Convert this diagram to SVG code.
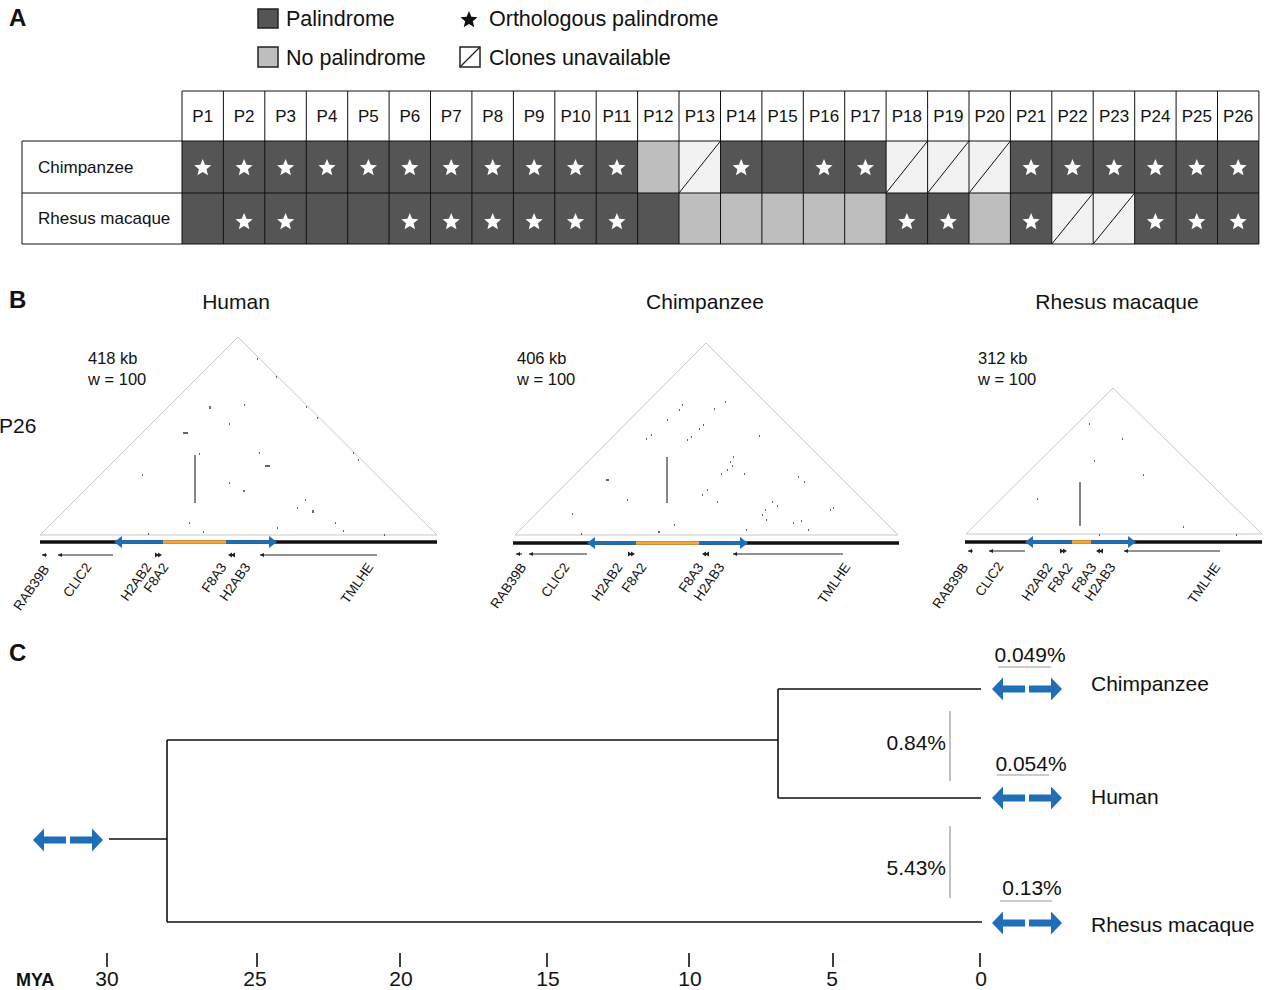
<svg xmlns="http://www.w3.org/2000/svg" width="1280" height="990" viewBox="0 0 1280 990">
<defs>
<style>
text{font-family:"Liberation Sans",Arial,sans-serif;fill:#111}
.pl{font-size:24px;font-weight:bold}
.lg{font-size:21.5px}
.th{font-size:17px;text-anchor:middle}
.rl{font-size:17px}
.grid{stroke:#111;stroke-width:1;fill:none}
.dk{fill:#555}
.lt{fill:#bebebe}
.ht{fill:#f2f2f2}
.hl{stroke:#111;stroke-width:1;fill:none}
.st{fill:#fff}
.bt{font-size:21px;text-anchor:middle}
.sz{font-size:16.5px}
.gn{font-size:13.5px;text-anchor:end}
.tri{fill:none;stroke:#c9c9c9;stroke-width:1}
.dots{stroke:#333;stroke-width:1.4;fill:none}
.vl{stroke:#333;stroke-width:1.2}
.chr{stroke:#111;stroke-width:3.5}
.blu{stroke:#1f6fb8;stroke-width:3.5}
.org{stroke:#f2a93b;stroke-width:3.5}
.bh{fill:#1f6fb8}
.gl{stroke:#222;stroke-width:1;fill:none}
.ga{fill:#222}
.br{stroke:#111;stroke-width:1.6;fill:none}
.an{stroke:#9a9a9a;stroke-width:1.2}
.pc{font-size:21px}
.sp{font-size:21px}
.tk{stroke:#111;stroke-width:1.6}
.ax{font-size:21px;text-anchor:middle}
</style>
<path id="star" d="M0,-9 L2.35,-3.24 L8.56,-2.78 L3.8,1.24 L5.29,7.28 L0,4 L-5.29,7.28 L-3.8,1.24 L-8.56,-2.78 L-2.35,-3.24 Z"/>
<path id="dbl" d="M0,0 L11,-11.5 L11,-3.5 L33,-3.5 L33,3.5 L11,3.5 L11,11.5 Z M70,0 L59,-11.5 L59,-3.5 L37,-3.5 L37,3.5 L59,3.5 L59,11.5 Z" fill="#1f6fb8"/>
</defs>
<rect width="1280" height="990" fill="#fff"/>

<!-- Panel A -->
<g id="panelA">
<text class="pl" x="9" y="26">A</text>
<g id="legend">
<rect x="258" y="9" width="20" height="19" class="dk" stroke="#222" stroke-width="1.5"/>
<text class="lg" x="286" y="26">Palindrome</text>
<rect x="258" y="47" width="20" height="20" class="lt" stroke="#222" stroke-width="1.5"/>
<text class="lg" x="286" y="65">No palindrome</text>
<use href="#star" x="469" y="20" fill="#111"/>
<text class="lg" x="489" y="26">Orthologous palindrome</text>
<rect x="460" y="47" width="20" height="20" fill="#fff" stroke="#222" stroke-width="1.5"/>
<line x1="460" y1="67" x2="480" y2="47" stroke="#222" stroke-width="1.2"/>
<text class="lg" x="489" y="65">Clones unavailable</text>
</g>
<g id="table">
<rect x="182" y="91" width="1077" height="50" fill="#fff"/>
<rect x="22" y="141" width="160" height="103" fill="#fff"/>
<rect x="182" y="141" width="1077" height="103" class="dk"/>
<rect x="637.6" y="141" width="41.4" height="52" class="lt"/>
<rect x="679.0" y="141" width="41.4" height="52" class="ht"/>
<rect x="886.1" y="141" width="124.3" height="52" class="ht"/>
<rect x="679.0" y="193" width="207.1" height="51" class="lt"/>
<rect x="969.0" y="193" width="41.4" height="51" class="lt"/>
<rect x="1051.8" y="193" width="82.8" height="51" class="ht"/>
<path class="hl" d="M679,193 L720.5,141 M886.1,193 L927.6,141 M927.6,193 L969,141 M969,193 L1010.4,141 M1051.8,244 L1093.2,193 M1093.2,244 L1134.7,193"/>
<path class="grid" d="M182,91 H1258.9 M22,141 H1258.9 M22,193 H1258.9 M22,244 H1258.9 M22,141 V244 M182,91 V244 M223.4,91 V244 M264.8,91 V244 M306.3,91 V244 M347.7,91 V244 M389.1,91 V244 M430.5,91 V244 M471.9,91 V244 M513.4,91 V244 M554.8,91 V244 M596.2,91 V244 M637.6,91 V244 M679,91 V244 M720.5,91 V244 M761.9,91 V244 M803.3,91 V244 M844.7,91 V244 M886.1,91 V244 M927.6,91 V244 M969,91 V244 M1010.4,91 V244 M1051.8,91 V244 M1093.2,91 V244 M1134.7,91 V244 M1176.1,91 V244 M1217.5,91 V244 M1258.9,91 V244"/>
<g id="headers">
<text class="th" x="202.7" y="122">P1</text>
<text class="th" x="244.1" y="122">P2</text>
<text class="th" x="285.6" y="122">P3</text>
<text class="th" x="327.0" y="122">P4</text>
<text class="th" x="368.4" y="122">P5</text>
<text class="th" x="409.8" y="122">P6</text>
<text class="th" x="451.2" y="122">P7</text>
<text class="th" x="492.7" y="122">P8</text>
<text class="th" x="534.1" y="122">P9</text>
<text class="th" x="575.5" y="122">P10</text>
<text class="th" x="616.9" y="122">P11</text>
<text class="th" x="658.3" y="122">P12</text>
<text class="th" x="699.8" y="122">P13</text>
<text class="th" x="741.2" y="122">P14</text>
<text class="th" x="782.6" y="122">P15</text>
<text class="th" x="824.0" y="122">P16</text>
<text class="th" x="865.4" y="122">P17</text>
<text class="th" x="906.9" y="122">P18</text>
<text class="th" x="948.3" y="122">P19</text>
<text class="th" x="989.7" y="122">P20</text>
<text class="th" x="1031.1" y="122">P21</text>
<text class="th" x="1072.5" y="122">P22</text>
<text class="th" x="1114.0" y="122">P23</text>
<text class="th" x="1155.4" y="122">P24</text>
<text class="th" x="1196.8" y="122">P25</text>
<text class="th" x="1238.2" y="122">P26</text>
</g>
<text class="rl" x="38" y="173">Chimpanzee</text>
<text class="rl" x="38" y="224">Rhesus macaque</text>
<g id="stars" class="st">
<use href="#star" x="202.7" y="168"/>
<use href="#star" x="244.1" y="168"/>
<use href="#star" x="285.6" y="168"/>
<use href="#star" x="327.0" y="168"/>
<use href="#star" x="368.4" y="168"/>
<use href="#star" x="409.8" y="168"/>
<use href="#star" x="451.2" y="168"/>
<use href="#star" x="492.7" y="168"/>
<use href="#star" x="534.1" y="168"/>
<use href="#star" x="575.5" y="168"/>
<use href="#star" x="616.9" y="168"/>
<use href="#star" x="741.2" y="168"/>
<use href="#star" x="824.0" y="168"/>
<use href="#star" x="865.4" y="168"/>
<use href="#star" x="1031.1" y="168"/>
<use href="#star" x="1072.5" y="168"/>
<use href="#star" x="1114.0" y="168"/>
<use href="#star" x="1155.4" y="168"/>
<use href="#star" x="1196.8" y="168"/>
<use href="#star" x="1238.2" y="168"/>
<use href="#star" x="244.1" y="222"/>
<use href="#star" x="285.6" y="222"/>
<use href="#star" x="409.8" y="222"/>
<use href="#star" x="451.2" y="222"/>
<use href="#star" x="492.7" y="222"/>
<use href="#star" x="534.1" y="222"/>
<use href="#star" x="575.5" y="222"/>
<use href="#star" x="616.9" y="222"/>
<use href="#star" x="906.9" y="222"/>
<use href="#star" x="948.3" y="222"/>
<use href="#star" x="1031.1" y="222"/>
<use href="#star" x="1155.4" y="222"/>
<use href="#star" x="1196.8" y="222"/>
<use href="#star" x="1238.2" y="222"/>
</g>
</g>
</g>

<!-- Panel B -->
<g id="panelB">
<text class="pl" x="9" y="308">B</text>
<text x="-1" y="433" font-size="21">P26</text>

<g id="human-plot">
<text class="bt" x="236" y="309">Human</text>
<text class="sz" x="88" y="364">418 kb</text>
<text class="sz" x="88" y="385">w = 100</text>
<path class="tri" d="M40,535 L238,337 L437,535 Z"/>
<path class="dots" d="M257,359h1M276,377h1M210,406v3M244,405h1M306,407h1M229,424h1M317,418h1M183,433h5M199,454h1M259,453h1M353,453h1M358,460h1M265,466h5M142,475h1M229,483h1M244,490v2M305,500h1M313,510v3M297,508h1M189,523h1M203,532h1M277,528h1M335,523h1M343,531h1M384,535h1M148,534h1"/>
<line class="vl" x1="195" y1="455" x2="195" y2="503"/>
<line class="chr" x1="40" y1="542" x2="437" y2="542"/>
<line class="blu" x1="120" y1="542" x2="163" y2="542"/>
<line class="org" x1="163" y1="542" x2="226" y2="542"/>
<line class="blu" x1="226" y1="542" x2="270" y2="542"/>
<path class="bh" d="M114,542 L122,536 L122,548 Z M277,542 L269,536 L269,548 Z"/>
<path class="gl" d="M42,555 H47 M58,555 H113 M260,555 H377"/>
<path class="ga" d="M42,555 L46,553 L46,557 Z M58,555 L62,553 L62,557 Z M260,555 L264,553 L264,557 Z M159,555 L155,552.5 L155,557.5 Z M162,555 L158,552.5 L158,557.5 Z M228,555 L232,552.5 L232,557.5 Z M231,555 L235,552.5 L235,557.5 Z"/>
<text class="gn" transform="translate(50,569) rotate(-55)">RAB39B</text>
<text class="gn" transform="translate(92,567) rotate(-55)">CLIC2</text>
<text class="gn" transform="translate(152,567) rotate(-55)">H2AB2</text>
<text class="gn" transform="translate(169,567) rotate(-55)">F8A2</text>
<text class="gn" transform="translate(227,567) rotate(-55)">F8A3</text>
<text class="gn" transform="translate(251,567) rotate(-55)">H2AB3</text>
<text class="gn" transform="translate(374,567) rotate(-55)">TMLHE</text>
</g>

<g id="chimp-plot">
<text class="bt" x="705" y="309">Chimpanzee</text>
<text class="sz" x="517" y="364">406 kb</text>
<text class="sz" x="517" y="385">w = 100</text>
<path class="tri" d="M515,535 L706,343 L898,535 Z"/>
<path class="dots" d="M725,402h1M714,409h1M679,410h1M682,405h1M667,420h1M703,425h1M699,429h1M691,437h1M687,440h1M651,435h1M646,439h1M759,436h1M733,457h1M730,462h1M732,466h1M727,470h1M721,474h1M744,474h1M606,480h3M798,477h1M804,482h1M707,490h1M702,495h1M627,500h1M717,502h1M772,502h1M777,506h1M765,510h1M762,515h1M572,514h1M833,508h1M830,510h1M766,520h1M674,525h1M793,523h1M801,521h1M808,530h1M746,530h1M658,532h2M581,534h1"/>
<line class="vl" x1="667" y1="457" x2="667" y2="503"/>
<line class="chr" x1="513" y1="543" x2="899" y2="543"/>
<line class="blu" x1="593" y1="543" x2="636" y2="543"/>
<line class="org" x1="636" y1="543" x2="699" y2="543"/>
<line class="blu" x1="699" y1="543" x2="742" y2="543"/>
<path class="bh" d="M587,543 L595,537 L595,549 Z M748,543 L740,537 L740,549 Z"/>
<path class="gl" d="M516,554 H522 M529,554 H587 M733,554 H843"/>
<path class="ga" d="M516,554 L520,552 L520,556 Z M529,554 L533,552 L533,556 Z M733,554 L737,552 L737,556 Z M632,554 L628,551.5 L628,556.5 Z M635,554 L631,551.5 L631,556.5 Z M702,554 L706,551.5 L706,556.5 Z M705,554 L709,551.5 L709,556.5 Z"/>
<text class="gn" transform="translate(527,567) rotate(-55)">RAB39B</text>
<text class="gn" transform="translate(570,567) rotate(-55)">CLIC2</text>
<text class="gn" transform="translate(623,567) rotate(-55)">H2AB2</text>
<text class="gn" transform="translate(647,567) rotate(-55)">F8A2</text>
<text class="gn" transform="translate(704,567) rotate(-55)">F8A3</text>
<text class="gn" transform="translate(725,567) rotate(-55)">H2AB3</text>
<text class="gn" transform="translate(851,567) rotate(-55)">TMLHE</text>
</g>

<g id="rhesus-plot">
<text class="bt" x="1117" y="309">Rhesus macaque</text>
<text class="sz" x="978" y="364">312 kb</text>
<text class="sz" x="978" y="385">w = 100</text>
<path class="tri" d="M966,534 L1113,388 L1262,534 Z"/>
<path class="dots" d="M1089,424h1M1122,439h1M1094,461h1M1143,475h1M1037,499h1M1183,527h1M1236,535h1M1099,535h1"/>
<line class="vl" x1="1080" y1="482" x2="1080" y2="526"/>
<line class="chr" x1="965" y1="542" x2="1262" y2="542"/>
<line class="blu" x1="1031" y1="542" x2="1072" y2="542"/>
<line class="org" x1="1072" y1="542" x2="1091" y2="542"/>
<line class="blu" x1="1091" y1="542" x2="1130" y2="542"/>
<path class="bh" d="M1025,542 L1033,536 L1033,548 Z M1136,542 L1128,536 L1128,548 Z"/>
<path class="gl" d="M968,551 H973 M989,551 H1025 M1124,551 H1220"/>
<path class="ga" d="M968,551 L972,549 L972,553 Z M989,551 L993,549 L993,553 Z M1124,551 L1128,549 L1128,553 Z M1064,551 L1060,548.5 L1060,553.5 Z M1067,551 L1063,548.5 L1063,553.5 Z M1096,551 L1100,548.5 L1100,553.5 Z M1099,551 L1103,548.5 L1103,553.5 Z"/>
<text class="gn" transform="translate(969,567) rotate(-55)">RAB39B</text>
<text class="gn" transform="translate(1004,566) rotate(-55)">CLIC2</text>
<text class="gn" transform="translate(1053,567) rotate(-55)">H2AB2</text>
<text class="gn" transform="translate(1073,567) rotate(-55)">F8A2</text>
<text class="gn" transform="translate(1097,567) rotate(-55)">F8A3</text>
<text class="gn" transform="translate(1116,567) rotate(-55)">H2AB3</text>
<text class="gn" transform="translate(1221,567) rotate(-55)">TMLHE</text>
</g>
</g>

<!-- Panel C -->
<g id="panelC">
<text class="pl" x="9" y="661">C</text>
<g id="connectors">
<path class="br" d="M109,839 H167 M167,740 V922 M167,740 H778 M778,689 V798 M778,689 H981 M778,798 H981 M167,922 H982"/>
</g>
<g id="node-root"><use href="#dbl" x="33" y="840"/></g>
<g id="node-chimp">
<use href="#dbl" x="992" y="689"/>
<text class="pc" x="1030" y="662" text-anchor="middle">0.049%</text>
<line class="an" x1="998" y1="667" x2="1051" y2="667"/>
<text class="sp" x="1091" y="691">Chimpanzee</text>
</g>
<g id="node-human">
<use href="#dbl" x="992" y="798"/>
<text class="pc" x="1031" y="771" text-anchor="middle">0.054%</text>
<line class="an" x1="997" y1="775" x2="1049" y2="775"/>
<text class="sp" x="1091" y="804">Human</text>
</g>
<g id="node-rhesus">
<use href="#dbl" x="992" y="923"/>
<text class="pc" x="1032" y="895" text-anchor="middle">0.13%</text>
<line class="an" x1="1000" y1="901" x2="1052" y2="901"/>
<text class="sp" x="1091" y="932">Rhesus macaque</text>
</g>
<g id="divergence">
<line class="an" x1="950" y1="711" x2="950" y2="781"/>
<text class="pc" x="946" y="750" text-anchor="end">0.84%</text>
<line class="an" x1="950" y1="826" x2="950" y2="898"/>
<text class="pc" x="946" y="875" text-anchor="end">5.43%</text>
</g>
<g id="axis">
<path class="tk" d="M107,953 V967 M257,953 V967 M400,953 V967 M547,953 V967 M689,953 V967 M833,953 V967 M980,953 V967"/>
<text x="16" y="986" font-size="18" font-weight="bold">MYA</text>
<text class="ax" x="107" y="986">30</text>
<text class="ax" x="255" y="986">25</text>
<text class="ax" x="401" y="986">20</text>
<text class="ax" x="548" y="986">15</text>
<text class="ax" x="690" y="986">10</text>
<text class="ax" x="832" y="986">5</text>
<text class="ax" x="981" y="986">0</text>
</g>
</g>
</svg>
